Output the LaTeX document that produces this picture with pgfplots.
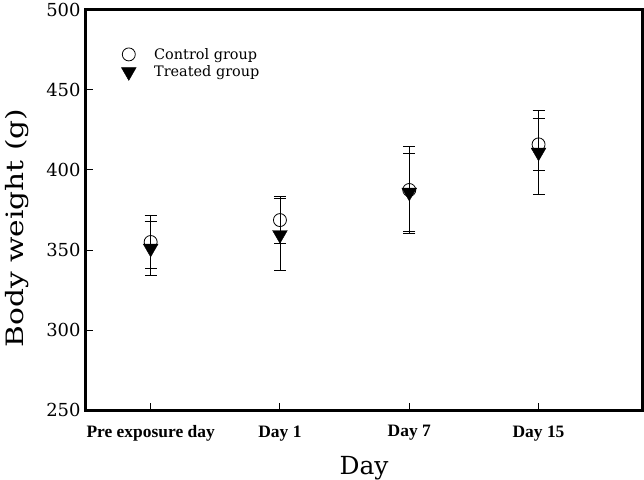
\documentclass[border=0pt]{standalone}
\usepackage{pgfplots}
\pgfplotsset{compat=1.18}
\usepackage{fontspec}
\setmainfont{DejaVu Serif}
\newfontfamily\timesb{Liberation Serif}
\begin{document}
\begin{tikzpicture}
\begin{axis}[
  scale only axis,
  width=556bp, height=400bp,
  xmin=-0.5, xmax=3.8,
  ymin=250, ymax=500,
  xtick={0,1,2,3},
  xticklabels={Pre exposure day, Day 1, Day 7, Day 15},
  ytick={250,300,...,500},
  tick align=inside,
  xtick pos=bottom, ytick pos=left,
  major tick length=7bp,
  axis line style={line width=3bp},
  tick style={line width=1bp, black},
  /pgf/number format/assume math mode=true,
  yticklabel style={font=\fontsize{18}{20}\selectfont, xshift=-2bp},
  xticklabel style={font=\fontsize{17.5}{20}\selectfont\timesb\bfseries, yshift=-12bp},
  xlabel={\fontsize{25}{28}\selectfont Day},
  ylabel={\scalebox{1.24}[1]{\fontsize{24}{28}\selectfont Body weight (g)}},
  xlabel style={yshift=-8bp},
  ylabel style={at={(ticklabel cs:0.455)}, yshift=11bp},
  legend style={draw=none, fill=none, at={(0.058,0.915)}, anchor=north west,
    font=\fontsize{14.5}{16}\selectfont, row sep=1bp},
  legend cell align=left,
]
\addplot[black, only marks, mark=o, mark size=6.5bp, mark options={line width=0.8bp},
  error bars/.cd, y dir=both, y explicit,
  error bar style={line width=0.9bp},
  error mark options={rotate=90, mark size=6bp, line width=0.9bp}]
  coordinates {
  (0,355) +- (0,16.5)
  (1,368.7) +- (0,14.5)
  (2,387.5) +- (0,27)
  (3,416) +- (0,16.5)
};
\addlegendentry{\hspace{16bp}Control group}
\addplot[black, only marks, mark=triangle*, mark size=8.5bp, mark options={rotate=180, fill=black},
  error bars/.cd, y dir=both, y explicit,
  error bar style={line width=0.9bp},
  error mark options={rotate=90, mark size=6bp, line width=0.9bp}]
  coordinates {
  (0,351) +- (0,17)
  (1,359.5) +- (0,22.5)
  (2,386) +- (0,24.5)
  (3,411) +- (0,26)
};
\addlegendentry{\hspace{16bp}Treated group}
\end{axis}
\pgfresetboundingbox
\path (-86bp,-70bp) rectangle (558bp,410bp);
\end{tikzpicture}
\end{document}
